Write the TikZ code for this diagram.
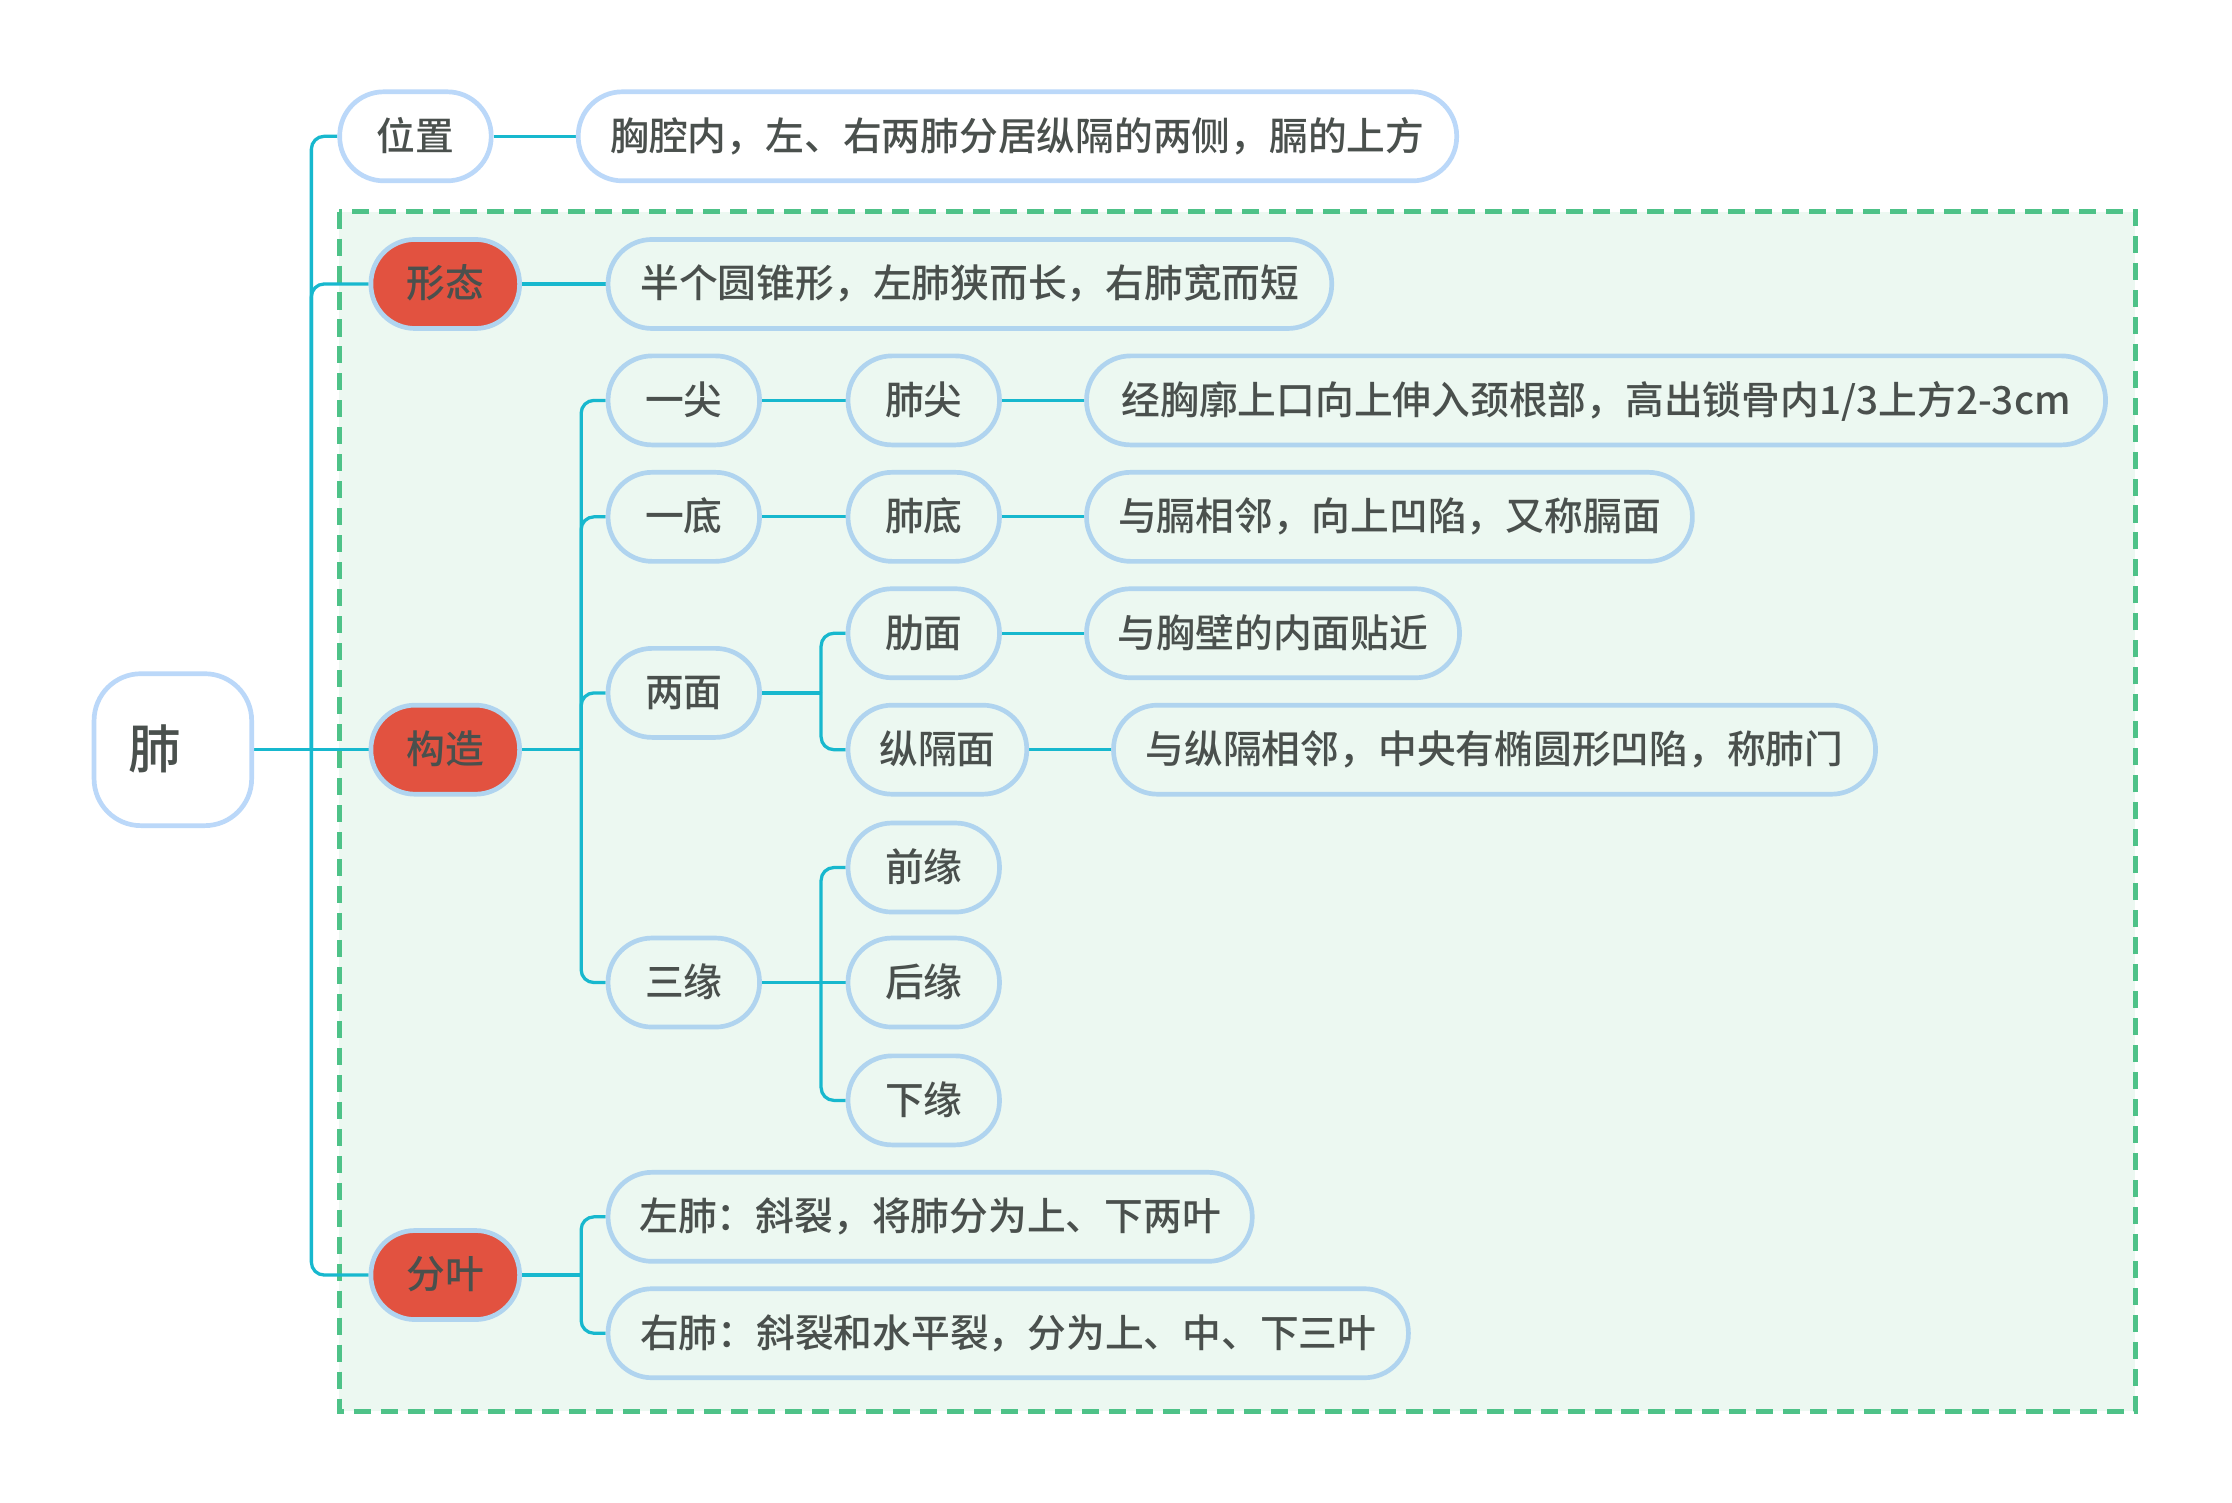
\documentclass[tikz,border=0pt]{standalone}
\usepackage{fontspec}
\setmainfont{Noto Sans CJK SC}[UprightFont={* Medium}]
\definecolor{lineC}{RGB}{23,184,206}
\definecolor{bordW}{RGB}{187,216,249}
\definecolor{bordI}{RGB}{176,212,239}
\definecolor{redF}{RGB}{226,82,64}
\definecolor{fillI}{RGB}{236,248,241}
\definecolor{dashC}{RGB}{78,194,136}
\definecolor{txtC}{RGB}{74,80,77}
\pgfdeclarelayer{back}
\pgfdeclarelayer{mid}
\pgfsetlayers{back,mid,main}
\begin{document}
\begin{tikzpicture}[x=1pt,y=-1pt,
  box/.style={rounded corners=31pt, minimum height=62.7pt, inner xsep=22pt, inner ysep=0pt,
    line width=3.3pt, font=\fontsize{27.3}{32}\selectfont, text=txtC, anchor=west,
    text height=23pt, text depth=3.5pt},
  wbox/.style={box, fill=white, draw=bordW},
  ibox/.style={box, fill=fillI, draw=bordI},
  rbox/.style={box, fill=redF, draw=bordI},
  conn/.style={draw=lineC, line width=2.3pt, rounded corners=9pt},
]
\useasboundingbox (0,0) rectangle (1572,1058.5);

% root
\node[wbox, rounded corners=33pt, minimum width=111pt, minimum height=107pt,
  font=\fontsize{37}{40}\selectfont, text height=31pt, text depth=5pt] (root) at (64.6,528) {肺\hspace*{26pt}};

% level 1
\node[wbox, minimum width=106.7pt] (wz) at (237.6,96) {位置};
\node[rbox, minimum width=104.7pt] (xt) at (259.6,200) {形态};
\node[rbox, minimum width=104.7pt] (gz) at (259.6,528) {构造};
\node[rbox, minimum width=104.7pt] (fy) at (259.6,898) {分叶};

% level 2
\node[wbox, minimum width=618.7pt] (wz1) at (405.6,96) {胸腔内，左、右两肺分居纵隔的两侧，膈的上方};
\node[ibox, minimum width=509.7pt] (xt1) at (426.6,200) {半个圆锥形，左肺狭而长，右肺宽而短};
\node[ibox, minimum width=106.7pt] (ys) at (426.6,282) {一尖};
\node[ibox, minimum width=106.7pt] (yd) at (426.6,364) {一底};
\node[ibox, minimum width=106.7pt] (lm) at (426.6,488) {两面};
\node[ibox, minimum width=106.7pt] (sy) at (426.6,692) {三缘};
\node[ibox, minimum width=453.7pt] (zf) at (426.6,857) {左肺：斜裂，将肺分为上、下两叶};
\node[ibox, minimum width=563.7pt] (yf) at (426.6,939) {右肺：斜裂和水平裂，分为上、中、下三叶};

% level 3
\node[ibox, minimum width=106.7pt] (fj) at (595.6,282) {肺尖};
\node[ibox, minimum width=106.7pt] (fd) at (595.6,364) {肺底};
\node[ibox, minimum width=106.7pt] (lem) at (595.6,446) {肋面};
\node[ibox, minimum width=124.7pt] (zgm) at (595.6,528) {纵隔面};
\node[ibox, minimum width=106.7pt] (qy) at (595.6,611) {前缘};
\node[ibox, minimum width=106.7pt] (hy) at (595.6,692) {后缘};
\node[ibox, minimum width=106.7pt] (xy) at (595.6,775) {下缘};

% level 4
\node[ibox, minimum width=717.7pt] (fj1) at (763.6,282) {经胸廓上口向上伸入颈根部，高出锁骨内1/3上方2-3cm};
\node[ibox, minimum width=426.7pt] (fd1) at (763.6,364) {与膈相邻，向上凹陷，又称膈面};
\node[ibox, minimum width=262.7pt] (lem1) at (763.6,446) {与胸壁的内面贴近};
\node[ibox, minimum width=536.7pt] (zgm1) at (782.6,528) {与纵隔相邻，中央有椭圆形凹陷，称肺门};

% junction points
\coordinate (j0) at ([xshift=40.4pt]root.east);
\coordinate (j1) at ([xshift=41.7pt]gz.east);
\coordinate (j2) at ([xshift=41.7pt]fy.east);
\coordinate (j3) at ([xshift=41.7pt]lm.east);
\coordinate (j4) at ([xshift=41.7pt]sy.east);

\begin{pgfonlayer}{back}
\fill[white] (0,0) rectangle (1572,1058.5);
\draw[dashC, fill=fillI, line width=3.4pt, dash pattern=on 12pt off 7pt] (239,149) rectangle (1504,994);
\end{pgfonlayer}

\begin{pgfonlayer}{mid}
% root branches
\draw[conn] (root.east) -- (gz.west);
\draw[conn] (j0) |- (wz.west);
\draw[conn] (j0) |- (xt.west);
\draw[conn] (j0) |- (fy.west);
% level 1 -> 2
\draw[conn] (wz.east) -- (wz1.west);
\draw[conn] (xt.east) -- (xt1.west);
\draw[conn] (gz.east) -- (j1);
\draw[conn] (j1) |- (ys.west);
\draw[conn] (j1) |- (yd.west);
\draw[conn] (j1) |- (lm.west);
\draw[conn] (j1) |- (sy.west);
\draw[conn] (fy.east) -- (j2);
\draw[conn] (j2) |- (zf.west);
\draw[conn] (j2) |- (yf.west);
% level 2 -> 3
\draw[conn] (ys.east) -- (fj.west);
\draw[conn] (yd.east) -- (fd.west);
\draw[conn] (lm.east) -- (j3);
\draw[conn] (j3) |- (lem.west);
\draw[conn] (j3) |- (zgm.west);
\draw[conn] (sy.east) -- (hy.west);
\draw[conn] (j4) |- (qy.west);
\draw[conn] (j4) |- (xy.west);
% level 3 -> 4
\draw[conn] (fj.east) -- (fj1.west);
\draw[conn] (fd.east) -- (fd1.west);
\draw[conn] (lem.east) -- (lem1.west);
\draw[conn] (zgm.east) -- (zgm1.west);
\end{pgfonlayer}
\end{tikzpicture}
\end{document}
